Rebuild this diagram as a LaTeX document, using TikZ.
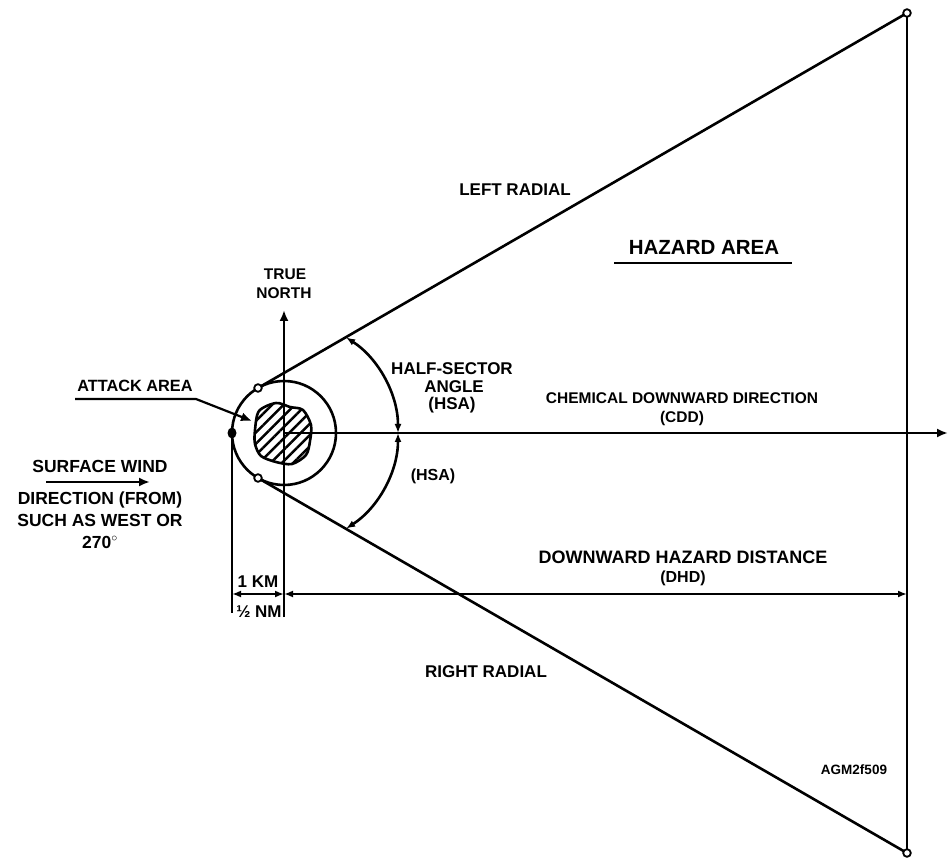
\documentclass[tikz,border=0pt]{standalone}
\usepackage{fontspec}
\setmainfont{Liberation Sans}
\usetikzlibrary{arrows.meta,patterns.meta}

\begin{document}
\begin{tikzpicture}[x=1pt,y=-1pt,line width=2.6pt,
    lbl/.style={font=\bfseries\fontsize{17}{17}\selectfont,inner sep=0pt},
    wind/.style={font=\bfseries\fontsize{17.5}{17.5}\selectfont,inner sep=0pt},
    tag/.style={font=\bfseries\fontsize{13.5}{13.5}\selectfont,inner sep=0pt},
    tip/.style={-{Latex[length=11pt,width=9pt]}},
    dim/.style={{Latex[length=9pt,width=7pt]}-{Latex[length=9pt,width=7pt]}},
    hole/.style={draw,fill=white,line width=1.8pt},
    dot/.style={fill=black}]
    \useasboundingbox (0,0) rectangle (948,858);

    % centre of the attack area and the points of the sector
    \coordinate (C) at (284,433);
    \coordinate (E) at (398,433);
    \coordinate (T1) at (258,388);
    \coordinate (T2) at (258,478);
    \coordinate (P1) at (907,13);
    \coordinate (P2) at (907,853);
    \coordinate (D) at (232,433);
    \coordinate (CDDend) at (948,433);
    \coordinate (Ntop) at (284,310);
    \coordinate (Nbot) at (284,617);
    \coordinate (Dbot) at (232,613);
    \coordinate (K1) at (232,594);
    \coordinate (K2) at (284,594);
    \coordinate (K3) at (907,594);

    % attack area
    \filldraw[pattern={Lines[angle=45,distance=8pt,line width=2.5pt]}]
        plot[smooth cycle] coordinates {(255,430) (259,411) (276,403) (290,407)
            (303,410) (311,425) (310,441) (306,455) (292,464) (276,462)
            (261,456) (255,444)};
    \draw (C) circle[radius=52];

    % radials and hazard area
    \draw (T1) -- (P1);
    \draw (T2) -- (P2);
    \draw (P1) -- (P2);
    \draw[tip] (C) -- (CDDend);
    \draw[tip] (Nbot) -- (Ntop);
    \draw (D) -- (Dbot);

    % half-sector angles
    \draw[dim] (E) arc[start angle=0,end angle=-57,radius=114];
    \draw[dim] (E) arc[start angle=0,end angle=57,radius=114];

    % distances
    \draw[dim] (K1) -- (K2);
    \draw[dim] (K2) -- (K3);

    \fill[dot] (D) ellipse[x radius=4.5,y radius=5.5];
    \foreach \p in {T1,T2,P1,P2}
        \draw[hole] (\p) circle[radius=3.8];

    % labels
    \node[lbl] (left) at (515,190) {LEFT RADIAL};
    \node[lbl] (right) at (486,672) {RIGHT RADIAL};
    \node[lbl,font=\bfseries\fontsize{20.5}{20.5}\selectfont] (hazard) at (704,247) {HAZARD AREA};
    \coordinate (H1) at (614,263);
    \coordinate (H2) at (792,263);
    \draw (H1) -- (H2);
    \node[lbl,font=\bfseries\fontsize{15.5}{15.5}\selectfont] (true) at (285,274) {TRUE};
    \node[lbl,font=\bfseries\fontsize{15.5}{15.5}\selectfont] (north) at (284,293) {NORTH};
    \node[lbl] (half) at (452,369) {HALF-SECTOR};
    \node[lbl] (angle) at (454,387) {ANGLE};
    \node[lbl] (hsa) at (452,405) {(HSA)};
    \node[lbl,font=\bfseries\fontsize{16}{16}\selectfont] (hsb) at (433,476) {(HSA)};
    \node[lbl,font=\bfseries\fontsize{15.5}{15.5}\selectfont] (cdd) at (682,398) {CHEMICAL DOWNWARD DIRECTION};
    \node[lbl,font=\bfseries\fontsize{15.5}{15.5}\selectfont] (cddb) at (682,418) {(CDD)};
    \node[lbl,font=\bfseries\fontsize{18}{18}\selectfont] (dhd) at (683,557) {DOWNWARD HAZARD DISTANCE};
    \node[lbl,font=\bfseries\fontsize{16}{16}\selectfont] (dhdb) at (683,578) {(DHD)};
    \node[lbl] (km) at (258,582) {1 KM};
    \node[lbl] (nm) at (259,612) {½ NM};

    \node[lbl,font=\bfseries\fontsize{16.3}{16.3}\selectfont] (attack) at (135,386) {ATTACK AREA};
    \coordinate (A1) at (75,399);
    \coordinate (A2) at (196,399);
    \coordinate (A3) at (252,421);
    \draw[tip,line width=2.2pt] (A1) -- (A2) -- (A3);

    \node[wind] (surf) at (100,466) {SURFACE WIND};
    \coordinate (W1) at (46,482);
    \coordinate (W2) at (150,482);
    \draw[tip,line width=2.2pt] (W1) -- (W2);
    \node[wind] (dir) at (100,500) {DIRECTION (FROM)};
    \node[wind] (such) at (100,520) {SUCH AS WEST OR};
    \node[wind] (deg) at (100,542) {270$^{\circ}$};

    \node[tag] (fig) at (854,770) {AGM2f509};
\end{tikzpicture}
\end{document}
